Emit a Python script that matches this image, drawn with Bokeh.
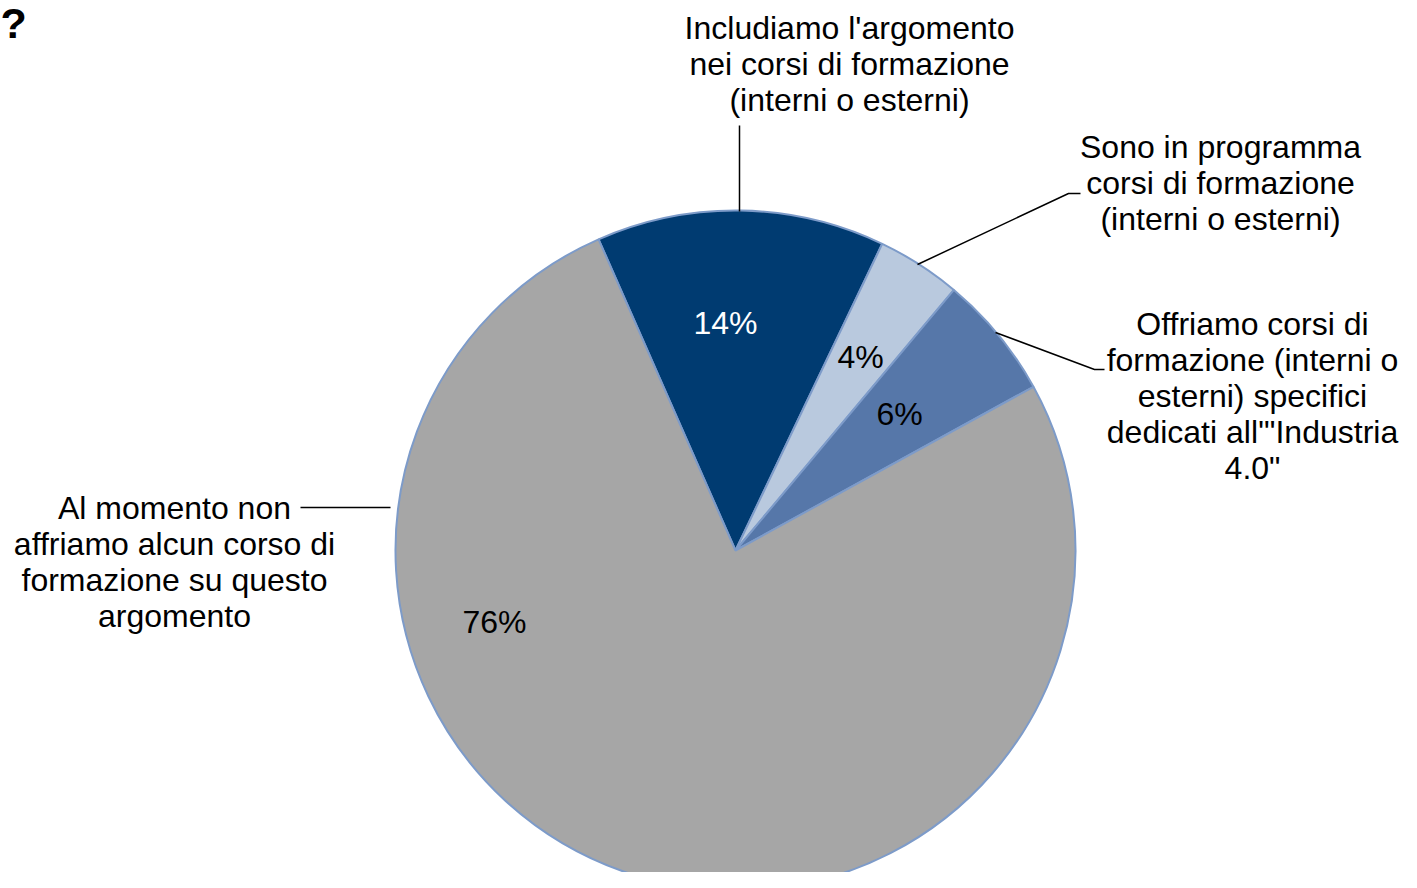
from bokeh.plotting import figure
from bokeh.models import Range1d
from bokeh.core.properties import value
from bokeh.embed import file_html
from bokeh.resources import INLINE
import math

# ---- data ----
categories = [
    "Includiamo l'argomento\nnei corsi di formazione\n(interni o esterni)",
    "Sono in programma\ncorsi di formazione\n(interni o esterni)",
    "Offriamo corsi di\nformazione (interni o\nesterni) specifici\ndedicati all'\"Industria\n4.0\"",
    "Al momento non\naffriamo alcun corso di\nformazione su questo\nargomento",
]
values = [13.7, 4.0, 5.9, 76.4]
colors = ["#003B71", "#B9C9DE", "#5677A9", "#A6A6A6"]
pct_colors = ["white", "black", "black", "black"]

W, H = 1401, 872
FONT = "Liberation Sans"

def X(px):
    return px

def Y(py):
    return H - py

p = figure(width=W, height=H, output_backend="svg", toolbar_location=None,
           x_range=Range1d(0, W), y_range=Range1d(0, H), min_border=0)
p.axis.visible = False
p.grid.visible = False
p.outline_line_color = None
p.background_fill_color = "white"
p.border_fill_color = "white"

cx, cy, r = X(735), Y(550), 340
start = -23.75  # compass degrees, clockwise from top
total = sum(values)
angles = []
a = start
for v in values:
    b = a + v / total * 360.0
    angles.append((a, b))
    a = b

for (a1, a2), col in zip(angles, colors):
    p.wedge(x=cx, y=cy, radius=r,
            start_angle=math.radians(90 - a1), end_angle=math.radians(90 - a2),
            direction="clock", fill_color=col, line_color="#7D9BC9", line_width=2)

# percentage labels
pct_pos = [(725, 322), (860, 356), (899, 413), (494, 621)]
for v, (px, py), tc in zip(values, pct_pos, pct_colors):
    p.text(x=[X(px)], y=[Y(py)], text=[f"{round(v)}%"], text_color=tc,
           text_font=value(FONT), text_font_size="32px",
           text_align="center", text_baseline="middle")

# category labels
lab_pos = [(849, 63), (1220, 182), (1252, 395), (174, 561)]
for txt, (px, py) in zip(categories, lab_pos):
    p.text(x=[X(px)], y=[Y(py)], text=[txt], text_color="black",
           text_font=value(FONT), text_font_size="32px",
           text_align="center", text_baseline="middle", text_line_height=1.0)

# leader lines
leaders = [
    [(739, 125), (739, 211)],
    [(917, 264), (1068, 193), (1080, 193)],
    [(995, 332), (1094, 369), (1104, 369)],
    [(300, 507), (390, 507)],
]
for pts in leaders:
    p.line(x=[X(q[0]) for q in pts], y=[Y(q[1]) for q in pts],
           line_color="black", line_width=1.5)

# title mark
p.text(x=[X(0)], y=[Y(22)], text=["?"], text_color="black",
       text_font=value(FONT), text_font_size="43px", text_font_style="bold",
       text_align="left", text_baseline="middle")

open("out.html", "w").write(file_html(p, INLINE))
